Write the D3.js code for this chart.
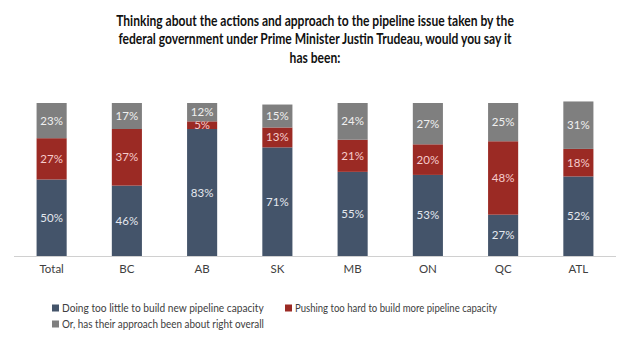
<!DOCTYPE html>
<html>
<head>
<meta charset="utf-8">
<script src="https://cdn.jsdelivr.net/npm/d3@7"></script>
<style>
  body { margin: 0; background: #fff; }
  svg { display: block; font-family: Lato, "Open Sans", sans-serif; }
</style>
</head>
<body>
<div id="chart"></div>
<script>
    var regions = ['Total', 'BC', 'AB', 'SK', 'MB', 'ON', 'QC', 'ATL'];
    var tooLittle = [50, 46, 83, 71, 55, 53, 27, 52];
    var tooHard = [27, 37, 5, 13, 21, 20, 48, 18];
    var aboutRight = [23, 17, 12, 15, 24, 27, 25, 31];

    var seriesNames = [
        'Doing too little to build new pipeline capacity',
        'Pushing too hard to build more pipeline capacity',
        'Or, has their approach been about right overall'
    ];
    var titleLines = [
        'Thinking about the actions and approach to the pipeline issue taken by the',
        'federal government under Prime Minister Justin Trudeau, would you say it',
        'has been:'
    ];

    var colors = ['#44546a', '#9b2a24', '#7f7f7f'];
    var labelColors = ['#e4e8ef', '#f6cccc', '#f0f0f0'];

    var width = 630, height = 343;

    var svg = d3.select('#chart').append('svg')
        .attr('width', width)
        .attr('height', height);

    // squeeze a group horizontally (around cx) so that its first text is `target` wide
    function condense(group, cx, target) {
        var w = group.select('text').node().getComputedTextLength();
        var k = Math.min(1, target / w);
        group.attr('transform', 'translate(' + cx + ',0) scale(' + k + ',1) translate(' + (-cx) + ',0)');
    }

    // title
    var titleBox = svg.append('g');
    titleBox.selectAll('text')
        .data(titleLines)
        .enter().append('text')
        .attr('x', 315)
        .attr('y', function (d, i) { return 26 + i * 18.5; })
        .attr('text-anchor', 'middle')
        .attr('font-size', 14.5)
        .attr('font-weight', 'bold')
        .attr('fill', '#111')
        .text(function (d) { return d; });
    condense(titleBox, 315, 398);

    var rows = regions.map(function (r, i) {
        return { region: r, a: tooLittle[i], b: tooHard[i], c: aboutRight[i] };
    });
    var stacked = d3.stack().keys(['a', 'b', 'c'])(rows);

    var x = d3.scaleBand()
        .domain(regions)
        .range([14, 616])
        .paddingInner(0.6)
        .paddingOuter(0.3);

    var y = d3.scaleLinear()
        .domain([0, 100])
        .range([256, 103]);

    var layers = svg.append('g').selectAll('g.layer')
        .data(stacked)
        .enter().append('g')
        .classed('layer', true);

    layers.selectAll('rect')
        .data(function (s) { return s; })
        .enter().append('rect')
        .attr('x', function (d) { return x(d.data.region); })
        .attr('width', x.bandwidth())
        .attr('y', function (d) { return y(d[1]); })
        .attr('height', function (d) { return y(d[0]) - y(d[1]); })
        .attr('fill', function () { return colors[d3.select(this.parentNode).datum().index]; });

    layers.selectAll('text')
        .data(function (s) { return s.map(function (d) { return { d: d, k: s.index }; }); })
        .enter().append('text')
        .attr('x', function (o) { return x(o.d.data.region) + x.bandwidth() / 2; })
        .attr('y', function (o) { return (y(o.d[0]) + y(o.d[1])) / 2; })
        .attr('dy', '0.35em')
        .attr('text-anchor', 'middle')
        .attr('font-size', 11.5)
        .attr('fill', function (o) { return labelColors[o.k]; })
        .text(function (o) { return (o.d[1] - o.d[0]) + '%'; });

    // category axis
    var axis = svg.append('g')
        .attr('transform', 'translate(0,' + y(0) + ')')
        .call(d3.axisBottom(x).tickSize(0).tickPadding(9));
    axis.select('.domain').attr('stroke', '#d0d0d0').attr('d', 'M14,0.5H616');
    axis.selectAll('text')
        .attr('font-size', 11.5)
        .attr('font-family', 'Lato, "Open Sans", sans-serif')
        .attr('fill', '#404040');

    // legend
    var legendPos = [[52, 308], [285, 308], [52, 324]];
    var legend = svg.append('g').selectAll('g')
        .data(seriesNames)
        .enter().append('g')
        .attr('transform', function (d, i) { return 'translate(' + legendPos[i][0] + ',' + legendPos[i][1] + ')'; });
    legend.append('rect')
        .attr('x', 0).attr('y', -3.5)
        .attr('width', 7).attr('height', 7)
        .attr('fill', function (d, i) { return colors[i]; });
    legend.append('g')
        .append('text')
        .attr('x', 10)
        .attr('dy', '0.35em')
        .attr('font-size', 12)
        .attr('fill', '#404040')
        .text(function (d) { return d; });
    legend.select('g').each(function () {
        condense(d3.select(this), 10, 202);
    });
</script>
</body>
</html>
